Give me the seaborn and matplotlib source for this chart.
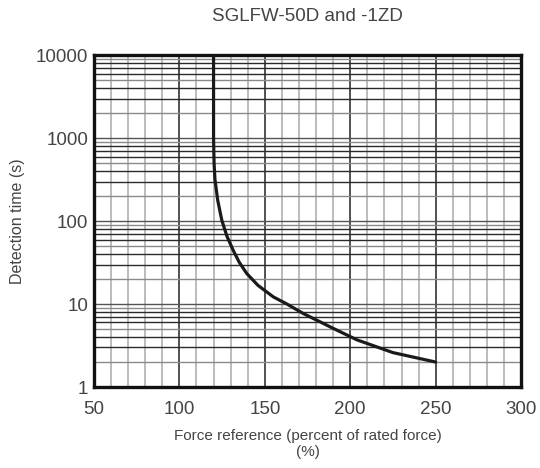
import matplotlib
matplotlib.use("Agg")
import matplotlib.pyplot as plt
import seaborn as sns
import pandas as pd

# curve
fuerza = [120, 120, 120.3, 120.8, 122.4, 124.8, 127.8, 131.6, 135, 139.4, 146, 155, 163,
          172.5, 190, 204, 225, 250]
tiempo = [10000, 1000, 500, 320, 180, 103, 66, 44, 32, 23.4, 16.8, 12.2, 10,
          7.7, 5.1, 3.7, 2.6, 2.0]

x_ticks = [50, 100, 150, 200, 250, 300]
y_ticks = [1, 10, 100, 1000, 10000]
y_labels = ["1", "10", "100", "1000", "10000"]

titulo = "SGLFW-50D and -1ZD"
x_label = "Force reference (percent of rated force)\n(%)"
y_label = "Detection time (s)"

sns.set_style("white")
plt.rcParams['font.family'] = ['Liberation Sans', 'DejaVu Sans']

db = pd.DataFrame({"fuerza": fuerza, "tiempo": tiempo})

fig = plt.figure(figsize=(5.4, 4.68), dpi=100)
ax = fig.add_axes([0.174, 0.173, 0.791, 0.709])

ax.set_xlim(50, 300)
ax.set_yscale("log")
ax.set_ylim(1, 10000)

## grid ##
for xv in range(60, 300, 10):
    if xv % 50 == 0:
        ax.axvline(xv, color="#222222", lw=1.1, zorder=1)
    else:
        ax.axvline(xv, color="#b0b0b0", lw=1.2, zorder=1)

oscuros = [3, 4, 6, 7, 8]
for dec in [1, 10, 100, 1000]:
    for m in range(2, 10):
        col = "#2a2a2a" if m in oscuros else "#8a8a8a"
        ax.axhline(dec * m, color=col, lw=1.0, zorder=1)
    if dec > 1:
        ax.axhline(dec, color="#555555", lw=1.0, zorder=1)

sns.lineplot(data=db, x="fuerza", y="tiempo", ax=ax, color="#1a1a1a", lw=2.3,
             sort=False, estimator=None, zorder=3)
ax.lines[-1].set_solid_joinstyle("round")

ax.set_xticks(x_ticks)
ax.set_yticks(y_ticks)
ax.set_yticklabels(y_labels)
ax.minorticks_off()
ax.tick_params(axis="both", length=0, labelsize=13.5, colors="#444444")
ax.tick_params(axis="x", pad=10)
ax.tick_params(axis="y", pad=4)

for s in ax.spines.values():
    s.set_linewidth(2.4)
    s.set_color("#111111")

ax.set_xlabel(x_label, fontsize=11, color="#444444", labelpad=8, linespacing=1.15)
ax.set_ylabel(y_label, fontsize=11.5, color="#444444", labelpad=8)
ax.set_title(titulo, fontsize=13.5, color="#444444", pad=25)

fig.savefig("out.png", dpi=100)
